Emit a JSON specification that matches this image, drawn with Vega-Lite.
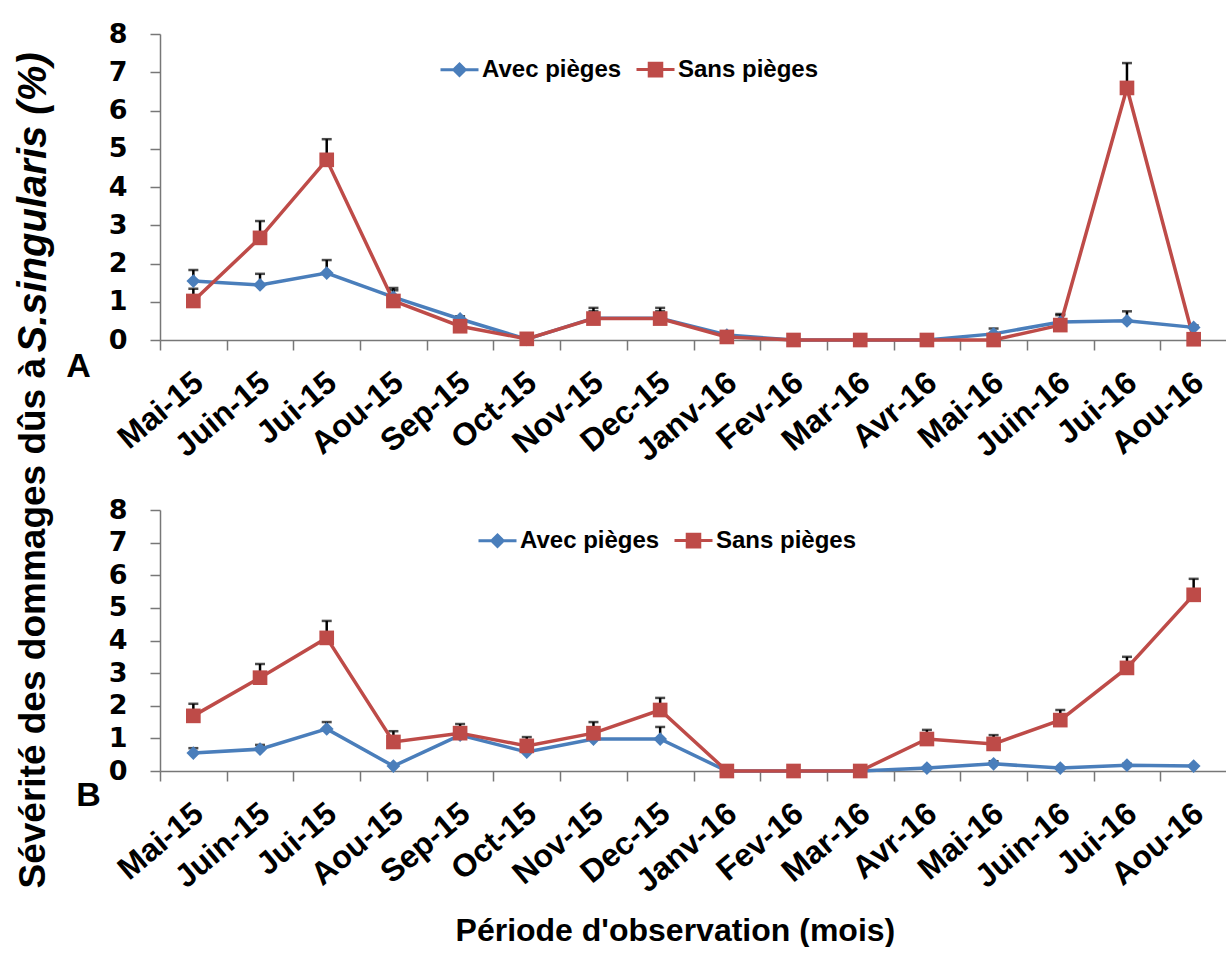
{
  "$schema": "https://vega.github.io/schema/vega-lite/v6.json",
  "background": "white",
  "padding": {"left": 13, "top": 20, "right": 0, "bottom": 0},
  "autosize": {"type": "pad"},
  "bounds": "flush",
  "spacing": 170,
  "title": {"text": "Période d'observation (mois)", "orient": "bottom", "anchor": "middle", "font": "Liberation Sans", "fontSize": 32, "fontWeight": "bold", "color": "black", "offset": 18, "dx": 55},
  "datasets": {
    "d": [
      {"p": "A", "m": "Mai-15", "s": "Avec pièges", "v": 1.54, "hi": 1.83},
      {"p": "A", "m": "Juin-15", "s": "Avec pièges", "v": 1.44, "hi": 1.73},
      {"p": "A", "m": "Jui-15", "s": "Avec pièges", "v": 1.75, "hi": 2.09},
      {"p": "A", "m": "Aou-15", "s": "Avec pièges", "v": 1.12, "hi": 1.36},
      {"p": "A", "m": "Sep-15", "s": "Avec pièges", "v": 0.55, "hi": 0.62},
      {"p": "A", "m": "Oct-15", "s": "Avec pièges", "v": 0.02, "hi": 0.02},
      {"p": "A", "m": "Nov-15", "s": "Avec pièges", "v": 0.57, "hi": 0.75},
      {"p": "A", "m": "Dec-15", "s": "Avec pièges", "v": 0.57, "hi": 0.75},
      {"p": "A", "m": "Janv-16", "s": "Avec pièges", "v": 0.13, "hi": 0.18},
      {"p": "A", "m": "Fev-16", "s": "Avec pièges", "v": 0, "hi": 0},
      {"p": "A", "m": "Mar-16", "s": "Avec pièges", "v": 0, "hi": 0},
      {"p": "A", "m": "Avr-16", "s": "Avec pièges", "v": 0, "hi": 0},
      {"p": "A", "m": "Mai-16", "s": "Avec pièges", "v": 0.16, "hi": 0.3},
      {"p": "A", "m": "Juin-16", "s": "Avec pièges", "v": 0.47, "hi": 0.65},
      {"p": "A", "m": "Jui-16", "s": "Avec pièges", "v": 0.5, "hi": 0.75},
      {"p": "A", "m": "Aou-16", "s": "Avec pièges", "v": 0.33, "hi": 0.38},
      {"p": "A", "m": "Mai-15", "s": "Sans pièges", "v": 1.02, "hi": 1.34},
      {"p": "A", "m": "Juin-15", "s": "Sans pièges", "v": 2.67, "hi": 3.11},
      {"p": "A", "m": "Jui-15", "s": "Sans pièges", "v": 4.71, "hi": 5.25},
      {"p": "A", "m": "Aou-15", "s": "Sans pièges", "v": 1.02, "hi": 1.3},
      {"p": "A", "m": "Sep-15", "s": "Sans pièges", "v": 0.36, "hi": 0.45},
      {"p": "A", "m": "Oct-15", "s": "Sans pièges", "v": 0.03, "hi": 0.03},
      {"p": "A", "m": "Nov-15", "s": "Sans pièges", "v": 0.56, "hi": 0.84},
      {"p": "A", "m": "Dec-15", "s": "Sans pièges", "v": 0.56, "hi": 0.84},
      {"p": "A", "m": "Janv-16", "s": "Sans pièges", "v": 0.08, "hi": 0.15},
      {"p": "A", "m": "Fev-16", "s": "Sans pièges", "v": 0, "hi": 0},
      {"p": "A", "m": "Mar-16", "s": "Sans pièges", "v": 0, "hi": 0},
      {"p": "A", "m": "Avr-16", "s": "Sans pièges", "v": 0, "hi": 0},
      {"p": "A", "m": "Mai-16", "s": "Sans pièges", "v": 0, "hi": 0},
      {"p": "A", "m": "Juin-16", "s": "Sans pièges", "v": 0.39, "hi": 0.68},
      {"p": "A", "m": "Jui-16", "s": "Sans pièges", "v": 6.59, "hi": 7.24},
      {"p": "A", "m": "Aou-16", "s": "Sans pièges", "v": 0.02, "hi": 0.02},
      {"p": "B", "m": "Mai-15", "s": "Avec pièges", "v": 0.55, "hi": 0.7},
      {"p": "B", "m": "Juin-15", "s": "Avec pièges", "v": 0.67, "hi": 0.8},
      {"p": "B", "m": "Jui-15", "s": "Avec pièges", "v": 1.29, "hi": 1.5},
      {"p": "B", "m": "Aou-15", "s": "Avec pièges", "v": 0.15, "hi": 0.15},
      {"p": "B", "m": "Sep-15", "s": "Avec pièges", "v": 1.1, "hi": 1.3},
      {"p": "B", "m": "Oct-15", "s": "Avec pièges", "v": 0.58, "hi": 0.7},
      {"p": "B", "m": "Nov-15", "s": "Avec pièges", "v": 0.98, "hi": 1.2},
      {"p": "B", "m": "Dec-15", "s": "Avec pièges", "v": 0.98, "hi": 1.35},
      {"p": "B", "m": "Janv-16", "s": "Avec pièges", "v": 0, "hi": 0},
      {"p": "B", "m": "Fev-16", "s": "Avec pièges", "v": 0, "hi": 0},
      {"p": "B", "m": "Mar-16", "s": "Avec pièges", "v": 0, "hi": 0},
      {"p": "B", "m": "Avr-16", "s": "Avec pièges", "v": 0.09, "hi": 0.09},
      {"p": "B", "m": "Mai-16", "s": "Avec pièges", "v": 0.22, "hi": 0.3},
      {"p": "B", "m": "Juin-16", "s": "Avec pièges", "v": 0.09, "hi": 0.09},
      {"p": "B", "m": "Jui-16", "s": "Avec pièges", "v": 0.18, "hi": 0.22},
      {"p": "B", "m": "Aou-16", "s": "Avec pièges", "v": 0.15, "hi": 0.15},
      {"p": "B", "m": "Mai-15", "s": "Sans pièges", "v": 1.69, "hi": 2.06},
      {"p": "B", "m": "Juin-15", "s": "Sans pièges", "v": 2.86, "hi": 3.28},
      {"p": "B", "m": "Jui-15", "s": "Sans pièges", "v": 4.08, "hi": 4.6},
      {"p": "B", "m": "Aou-15", "s": "Sans pièges", "v": 0.89, "hi": 1.22},
      {"p": "B", "m": "Sep-15", "s": "Sans pièges", "v": 1.16, "hi": 1.44},
      {"p": "B", "m": "Oct-15", "s": "Sans pièges", "v": 0.77, "hi": 1.04},
      {"p": "B", "m": "Nov-15", "s": "Sans pièges", "v": 1.16, "hi": 1.5},
      {"p": "B", "m": "Dec-15", "s": "Sans pièges", "v": 1.87, "hi": 2.24},
      {"p": "B", "m": "Janv-16", "s": "Sans pièges", "v": 0, "hi": 0},
      {"p": "B", "m": "Fev-16", "s": "Sans pièges", "v": 0, "hi": 0},
      {"p": "B", "m": "Mar-16", "s": "Sans pièges", "v": 0, "hi": 0},
      {"p": "B", "m": "Avr-16", "s": "Sans pièges", "v": 0.98, "hi": 1.26},
      {"p": "B", "m": "Mai-16", "s": "Sans pièges", "v": 0.83, "hi": 1.1},
      {"p": "B", "m": "Juin-16", "s": "Sans pièges", "v": 1.56, "hi": 1.87},
      {"p": "B", "m": "Jui-16", "s": "Sans pièges", "v": 3.16, "hi": 3.5},
      {"p": "B", "m": "Aou-16", "s": "Sans pièges", "v": 5.4, "hi": 5.89}
    ]
  },
  "data": {"name": "d"},
  "resolve": {"legend": {"color": "independent"}, "scale": {"x": "independent", "y": "independent"}},
  "vconcat": [
    {
      "width": 1067,
      "height": 306,
      "transform": [{"filter": "datum.p === 'A'"}],
      "encoding": {
        "x": {"field": "m", "type": "nominal", "bandPosition": 0.5,
          "sort": ["Mai-15","Juin-15","Jui-15","Aou-15","Sep-15","Oct-15","Nov-15","Dec-15","Janv-16","Fev-16","Mar-16","Avr-16","Mai-16","Juin-16","Jui-16","Aou-16"],
          "scale": {"type": "band", "paddingInner": 0, "paddingOuter": 0, "domain": ["Mai-15","Juin-15","Jui-15","Aou-15","Sep-15","Oct-15","Nov-15","Dec-15","Janv-16","Fev-16","Mar-16","Avr-16","Mai-16","Juin-16","Jui-16","Aou-16"]},
          "axis": {"title": "A", "titleX": -82, "titleY": 26, "titleAlign": "center", "titleBaseline": "middle", "titleAngle": 0, "titleFontSize": 34,
            "labelAngle": -40, "labelAlign": "right", "labelBaseline": "middle", "labelFontSize": 32, "labelPadding": 28, "labelOffset": 5, "tickSize": 10, "tickBand": "extent"}},
        "y": {"field": "v", "type": "quantitative", "scale": {"domain": [0, 8], "nice": false},
          "axis": {"values": [0,1,2,3,4,5,6,7,8], "tickSize": 10, "labelPadding": 23, "labelFontSize": 27, "labelFont": "DejaVu Sans",
            "title": "S.singularis (%)", "titleFontStyle": "italic", "titleFontSize": 40, "titleAngle": -90, "titleX": -127, "titleY": 318, "titleAlign": "left", "titleBaseline": "middle"}}
      },
      "layer": [
        {"transform": [{"filter": "datum.hi > datum.v"}], "mark": {"type": "rule", "color": "black", "strokeWidth": 2.5}, "encoding": {"y2": {"field": "hi"}}},
        {"transform": [{"filter": "datum.hi > datum.v"}], "mark": {"type": "tick", "color": "black", "thickness": 2.5, "size": 10}, "encoding": {"y": {"field": "hi", "type": "quantitative", "scale": {"domain": [0, 8], "nice": false},
          "axis": {"values": [0,1,2,3,4,5,6,7,8], "tickSize": 10, "labelPadding": 23, "labelFontSize": 27, "labelFont": "DejaVu Sans",
            "title": "S.singularis (%)", "titleFontStyle": "italic", "titleFontSize": 40, "titleAngle": -90, "titleX": -127, "titleY": 318, "titleAlign": "left", "titleBaseline": "middle"}}}},
        {"mark": {"type": "line", "strokeWidth": 3.5}, "encoding": {"color": {"field": "s", "type": "nominal", "scale": {"domain": ["Avec pièges", "Sans pièges"], "range": ["#4A7EBB", "#BE4B48"]},
            "legend": {"orient": "none", "legendX": 279, "legendY": 15, "direction": "horizontal", "title": null, "symbolSize": 1444, "labelFontSize": 24, "labelFont": "Liberation Sans", "labelFontWeight": "bold", "labelColor": "black", "labelOffset": 2, "columnPadding": 8,
              "encode": {"symbols": {"update": {"shape": {"signal": "datum.value === 'Avec pièges' ? 'M-1,0H1M0,-0.3L0.3,0L0,0.3L-0.3,0Z' : 'M-1,0H1M-0.33,-0.33H0.33V0.33H-0.33Z'"}, "stroke": {"signal": "datum.value === 'Avec pièges' ? '#4A7EBB' : '#BE4B48'"}, "fill": {"signal": "datum.value === 'Avec pièges' ? '#4A7EBB' : '#BE4B48'"}, "strokeWidth": {"value": 3}, "opacity": {"value": 1}, "fillOpacity": {"value": 1}, "strokeOpacity": {"value": 1}}}}}}}},
        {"mark": {"type": "point", "filled": true, "opacity": 1}, "encoding": {
          "color": {"field": "s", "type": "nominal", "scale": {"domain": ["Avec pièges", "Sans pièges"], "range": ["#4A7EBB", "#BE4B48"]},
            "legend": {"orient": "none", "legendX": 279, "legendY": 15, "direction": "horizontal", "title": null, "symbolSize": 1444, "labelFontSize": 24, "labelFont": "Liberation Sans", "labelFontWeight": "bold", "labelColor": "black", "labelOffset": 2, "columnPadding": 8,
              "encode": {"symbols": {"update": {"shape": {"signal": "datum.value === 'Avec pièges' ? 'M-1,0H1M0,-0.3L0.3,0L0,0.3L-0.3,0Z' : 'M-1,0H1M-0.33,-0.33H0.33V0.33H-0.33Z'"}, "stroke": {"signal": "datum.value === 'Avec pièges' ? '#4A7EBB' : '#BE4B48'"}, "fill": {"signal": "datum.value === 'Avec pièges' ? '#4A7EBB' : '#BE4B48'"}, "strokeWidth": {"value": 3}, "opacity": {"value": 1}, "fillOpacity": {"value": 1}, "strokeOpacity": {"value": 1}}}}}},
          "shape": {"field": "s", "type": "nominal", "scale": {"domain": ["Avec pièges", "Sans pièges"], "range": ["diamond", "square"]}, "legend": null},
          "size": {"field": "s", "type": "ordinal", "scale": {"domain": ["Avec pièges", "Sans pièges"], "range": [190, 215]}, "legend": null}
        }}
      ]
    },
    {
      "width": 1067,
      "height": 261,
      "transform": [{"filter": "datum.p === 'B'"}],
      "encoding": {
        "x": {"field": "m", "type": "nominal", "bandPosition": 0.5,
          "sort": ["Mai-15","Juin-15","Jui-15","Aou-15","Sep-15","Oct-15","Nov-15","Dec-15","Janv-16","Fev-16","Mar-16","Avr-16","Mai-16","Juin-16","Jui-16","Aou-16"],
          "scale": {"type": "band", "paddingInner": 0, "paddingOuter": 0, "domain": ["Mai-15","Juin-15","Jui-15","Aou-15","Sep-15","Oct-15","Nov-15","Dec-15","Janv-16","Fev-16","Mar-16","Avr-16","Mai-16","Juin-16","Jui-16","Aou-16"]},
          "axis": {"title": "B", "titleX": -72, "titleY": 24, "titleAlign": "center", "titleBaseline": "middle", "titleAngle": 0, "titleFontSize": 34,
            "labelAngle": -40, "labelAlign": "right", "labelBaseline": "middle", "labelFontSize": 32, "labelPadding": 28, "labelOffset": 5, "tickSize": 10, "tickBand": "extent"}},
        "y": {"field": "v", "type": "quantitative", "scale": {"domain": [0, 8], "nice": false},
          "axis": {"values": [0,1,2,3,4,5,6,7,8], "tickSize": 10, "labelPadding": 23, "labelFontSize": 27, "labelFont": "DejaVu Sans",
            "title": "Sévérité des dommages dûs à", "titleFontSize": 37, "titleAngle": -90, "titleX": -127, "titleY": 378, "titleAlign": "left", "titleBaseline": "middle"}}
      },
      "layer": [
        {"transform": [{"filter": "datum.hi > datum.v"}], "mark": {"type": "rule", "color": "black", "strokeWidth": 2.5}, "encoding": {"y2": {"field": "hi"}}},
        {"transform": [{"filter": "datum.hi > datum.v"}], "mark": {"type": "tick", "color": "black", "thickness": 2.5, "size": 10}, "encoding": {"y": {"field": "hi", "type": "quantitative", "scale": {"domain": [0, 8], "nice": false},
          "axis": {"values": [0,1,2,3,4,5,6,7,8], "tickSize": 10, "labelPadding": 23, "labelFontSize": 27, "labelFont": "DejaVu Sans",
            "title": "Sévérité des dommages dûs à", "titleFontSize": 37, "titleAngle": -90, "titleX": -127, "titleY": 378, "titleAlign": "left", "titleBaseline": "middle"}}}},
        {"mark": {"type": "line", "strokeWidth": 3.5}, "encoding": {"color": {"field": "s", "type": "nominal", "scale": {"domain": ["Avec pièges", "Sans pièges"], "range": ["#4A7EBB", "#BE4B48"]},
            "legend": {"orient": "none", "legendX": 317, "legendY": 10, "direction": "horizontal", "title": null, "symbolSize": 1444, "labelFontSize": 24, "labelFont": "Liberation Sans", "labelFontWeight": "bold", "labelColor": "black", "labelOffset": 2, "columnPadding": 8,
              "encode": {"symbols": {"update": {"shape": {"signal": "datum.value === 'Avec pièges' ? 'M-1,0H1M0,-0.3L0.3,0L0,0.3L-0.3,0Z' : 'M-1,0H1M-0.33,-0.33H0.33V0.33H-0.33Z'"}, "stroke": {"signal": "datum.value === 'Avec pièges' ? '#4A7EBB' : '#BE4B48'"}, "fill": {"signal": "datum.value === 'Avec pièges' ? '#4A7EBB' : '#BE4B48'"}, "strokeWidth": {"value": 3}, "opacity": {"value": 1}, "fillOpacity": {"value": 1}, "strokeOpacity": {"value": 1}}}}}}}},
        {"mark": {"type": "point", "filled": true, "opacity": 1}, "encoding": {
          "color": {"field": "s", "type": "nominal", "scale": {"domain": ["Avec pièges", "Sans pièges"], "range": ["#4A7EBB", "#BE4B48"]},
            "legend": {"orient": "none", "legendX": 317, "legendY": 10, "direction": "horizontal", "title": null, "symbolSize": 1444, "labelFontSize": 24, "labelFont": "Liberation Sans", "labelFontWeight": "bold", "labelColor": "black", "labelOffset": 2, "columnPadding": 8,
              "encode": {"symbols": {"update": {"shape": {"signal": "datum.value === 'Avec pièges' ? 'M-1,0H1M0,-0.3L0.3,0L0,0.3L-0.3,0Z' : 'M-1,0H1M-0.33,-0.33H0.33V0.33H-0.33Z'"}, "stroke": {"signal": "datum.value === 'Avec pièges' ? '#4A7EBB' : '#BE4B48'"}, "fill": {"signal": "datum.value === 'Avec pièges' ? '#4A7EBB' : '#BE4B48'"}, "strokeWidth": {"value": 3}, "opacity": {"value": 1}, "fillOpacity": {"value": 1}, "strokeOpacity": {"value": 1}}}}}},
          "shape": {"field": "s", "type": "nominal", "scale": {"domain": ["Avec pièges", "Sans pièges"], "range": ["diamond", "square"]}, "legend": null},
          "size": {"field": "s", "type": "ordinal", "scale": {"domain": ["Avec pièges", "Sans pièges"], "range": [190, 215]}, "legend": null}
        }}
      ]
    }
  ],
  "config": {
    "view": {"stroke": null},
    "axis": {"grid": false, "domainColor": "#777777", "tickColor": "#777777", "domainWidth": 1.5, "tickWidth": 1.5,
      "labelFont": "Liberation Sans", "labelFontWeight": "bold", "labelColor": "black",
      "titleFont": "Liberation Sans", "titleFontWeight": "bold", "titleColor": "black"}
  }
}
